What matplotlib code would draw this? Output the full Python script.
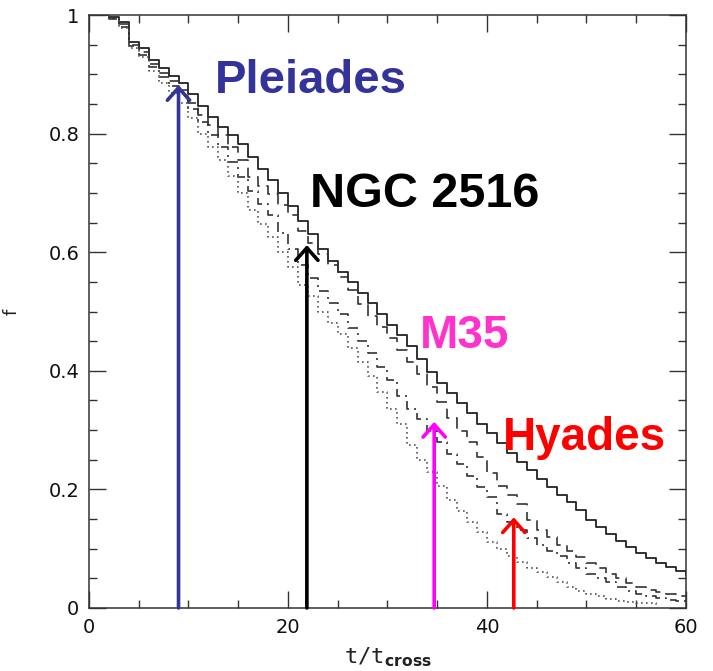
import numpy as np
import matplotlib
matplotlib.use("Agg")
import matplotlib.pyplot as plt
from matplotlib.ticker import MultipleLocator

plt.rcParams["font.family"] = ["Liberation Sans", "DejaVu Sans"]

# surviving fraction, sampled once per crossing time
t_cross = np.arange(0, 61)

f_solid = [
    1.000, 1.000, 0.997, 0.988, 0.955, 0.945, 0.924, 0.910, 0.898, 0.886,
    0.866, 0.846, 0.828, 0.812, 0.798, 0.782, 0.760, 0.740, 0.722, 0.700,
    0.678, 0.652, 0.630, 0.605, 0.585, 0.566, 0.550, 0.532, 0.514, 0.495,
    0.478, 0.460, 0.441, 0.420, 0.398, 0.380, 0.362, 0.345, 0.329, 0.311,
    0.295, 0.279, 0.262, 0.247, 0.232, 0.218, 0.204, 0.191, 0.179, 0.166,
    0.148, 0.136, 0.124, 0.113, 0.103, 0.093, 0.084, 0.076, 0.069, 0.062,
    0.056,
]
f_dashed = [
    1.000, 1.000, 0.995, 0.985, 0.950, 0.938, 0.918, 0.903, 0.888, 0.874,
    0.852, 0.832, 0.815, 0.798, 0.778, 0.755, 0.727, 0.712, 0.698, 0.680,
    0.662, 0.636, 0.616, 0.597, 0.578, 0.558, 0.536, 0.513, 0.492, 0.474,
    0.455, 0.435, 0.415, 0.395, 0.372, 0.348, 0.320, 0.298, 0.280, 0.255,
    0.228, 0.206, 0.190, 0.175, 0.148, 0.132, 0.119, 0.107, 0.096, 0.086,
    0.076, 0.067, 0.058, 0.050, 0.042, 0.036, 0.031, 0.027, 0.023, 0.020,
    0.018,
]
f_dashdot = [
    1.000, 1.000, 0.994, 0.980, 0.948, 0.933, 0.912, 0.895, 0.880, 0.864,
    0.842, 0.820, 0.798, 0.777, 0.752, 0.727, 0.703, 0.682, 0.662, 0.633,
    0.605, 0.578, 0.556, 0.535, 0.515, 0.495, 0.472, 0.450, 0.430, 0.407,
    0.385, 0.358, 0.336, 0.318, 0.298, 0.280, 0.260, 0.242, 0.222, 0.204,
    0.188, 0.158, 0.145, 0.132, 0.118, 0.106, 0.096, 0.087, 0.076, 0.068,
    0.058, 0.050, 0.043, 0.036, 0.029, 0.024, 0.020, 0.017, 0.014, 0.012,
    0.010,
]
f_dotted = [
    1.000, 1.000, 0.993, 0.978, 0.945, 0.930, 0.905, 0.885, 0.868, 0.852,
    0.826, 0.800, 0.778, 0.755, 0.728, 0.700, 0.672, 0.648, 0.625, 0.600,
    0.575, 0.545, 0.526, 0.500, 0.480, 0.462, 0.438, 0.415, 0.392, 0.365,
    0.335, 0.310, 0.275, 0.250, 0.230, 0.205, 0.182, 0.163, 0.145, 0.128,
    0.112, 0.100, 0.088, 0.077, 0.068, 0.060, 0.052, 0.044, 0.036, 0.029,
    0.024, 0.020, 0.015, 0.012, 0.010, 0.009, 0.008, 0.005,
]

# cluster ages (in crossing times) and where the arrows end
clusters = ["Pleiades", "NGC 2516", "M35", "Hyades"]
cluster_age = [9.0, 21.9, 34.7, 42.7]
arrow_tip = [0.882, 0.612, 0.314, 0.153]
arrow_colors = ["#333399", "#000000", "#ff00ff", "#ff0000"]
text_colors = ["#333399", "#000000", "#ff33cc", "#ff0000"]
text_pos = [(12.7, 0.868), (22.2, 0.676), (33.3, 0.438), (41.6, 0.267)]
text_sizes = [34, 35, 33, 33]


def main():
    fig = plt.figure(figsize=(7.13, 6.71), dpi=100)
    ax = fig.add_axes([0.1248, 0.0939, 0.8372, 0.8837])

    ax.plot(t_cross, f_solid, drawstyle="steps-post", color="#222222", lw=1.3)
    ax.plot(t_cross, f_dashed, drawstyle="steps-post", color="#333333",
            lw=1.2, dashes=(7, 4))
    ax.plot(t_cross, f_dashdot, drawstyle="steps-post", color="#333333",
            lw=1.2, dashes=(6, 3, 1.2, 3))
    ax.plot(t_cross[:len(f_dotted)], f_dotted, drawstyle="steps-post",
            color="#555555", lw=1.2, dashes=(1, 2))

    for name, age, tip, ac, tc, pos, size in zip(
        clusters, cluster_age, arrow_tip, arrow_colors, text_colors,
        text_pos, text_sizes
    ):
        ax.annotate(
            "", xy=(age, tip), xytext=(age, 0.0),
            arrowprops=dict(
                arrowstyle="->,head_length=0.45,head_width=0.4",
                color=ac, lw=2.6, mutation_scale=20,
                shrinkA=0, shrinkB=0,
            ),
            zorder=5,
        )
        ax.text(pos[0], pos[1], name, color=tc, fontsize=size,
                fontweight="bold", ha="left", va="baseline", zorder=6)

    ax.set_xlim(0, 60)
    ax.set_ylim(0, 1)
    ax.xaxis.set_major_locator(MultipleLocator(20))
    ax.xaxis.set_minor_locator(MultipleLocator(5))
    ax.yaxis.set_major_locator(MultipleLocator(0.2))
    ax.yaxis.set_minor_locator(MultipleLocator(0.05))
    ax.xaxis.set_major_formatter(plt.FuncFormatter(lambda v, p: f"{v:g}"))
    ax.yaxis.set_major_formatter(plt.FuncFormatter(lambda v, p: f"{v:g}"))

    ax.tick_params(which="both", direction="in", top=True, right=True,
                   width=1.0, colors="#333333", labelcolor="#111111",
                   labelsize=14)
    ax.tick_params(which="major", length=12, pad=7)
    ax.tick_params(which="minor", length=6)
    for label in ax.get_xticklabels() + ax.get_yticklabels():
        label.set_fontfamily("DejaVu Sans")
    for spine in ax.spines.values():
        spine.set_linewidth(1.1)
        spine.set_color("#333333")

    ax.set_xlabel(r"t/t$_{\mathbf{cross}}$", fontsize=16, labelpad=6,
                  fontfamily="DejaVu Sans Mono", color="#222222")
    ax.set_ylabel("f", fontsize=13, labelpad=20, fontfamily="DejaVu Sans",
                  color="#222222")

    plt.savefig("out.png", dpi=100)


if __name__ == "__main__":
    main()
